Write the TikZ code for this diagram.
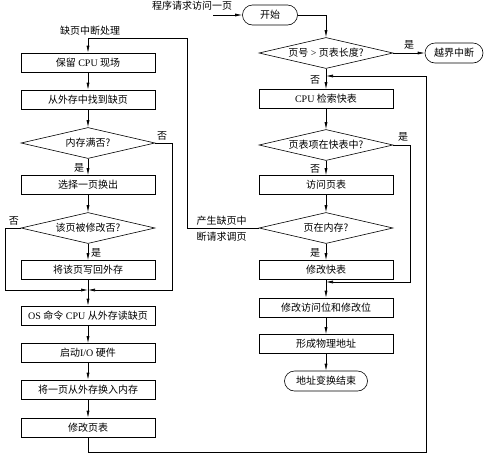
\documentclass[tikz,border=0pt]{standalone}
\usepackage{fontspec}
\setmainfont{Liberation Serif}
\newfontfamily\cjk{Noto Sans CJK SC}
\usetikzlibrary{shapes.geometric,arrows.meta}

\begin{document}
\begin{tikzpicture}[>={Latex[length=7pt,width=3pt]}, x=1pt, y=-1pt, line width=0.6pt,
    every node/.style={font=\cjk\fontsize{10}{12}\selectfont},
    box/.style={draw, minimum width=134pt, minimum height=19pt, inner sep=0pt},
    judge/.style={draw, diamond, aspect=4.3, minimum width=134pt, minimum height=31pt, inner sep=0pt},
    term/.style={draw, rounded corners=10pt, minimum height=20pt, inner sep=0pt}]
    \useasboundingbox (0,0) rectangle (485,459);

    % 地址变换（右列）
    \node[term, minimum width=55pt] (start) at (270,15) {开始};
    \node (reqtxt) at (192,6) {程序请求访问一页};
    \coordinate (req) at (213,15);
    \node[judge] (chk) at (326,53) {页号\textrm{ > }页表长度?};
    \node[term, minimum width=58pt] (over) at (454,53) {越界中断};
    \node[box] (tlb) at (326,99) {\textrm{CPU }检索快表};
    \node[judge] (intlb) at (326,145) {页表项在快表中?};
    \node[box] (visit) at (326,185) {访问页表};
    \node[judge] (inmem) at (326,228) {页在内存?};
    \node[box] (modtlb) at (326,270) {修改快表};
    \node[box] (modbit) at (326,307.5) {修改访问位和修改位};
    \node[box] (phys) at (326,344) {形成物理地址};
    \node[term, minimum width=83pt] (done) at (326,381) {地址变换结束};
    \coordinate (jA) at (326,76);
    \coordinate (jB) at (326,282);

    % 缺页中断处理（左列）
    \node (faulttxt) at (90,31) {缺页中断处理};
    \node[box] (save) at (88,62.5) {保留\textrm{ CPU }现场};
    \node[box] (find) at (88,99.5) {从外存中找到缺页};
    \node[judge] (full) at (88,143) {内存满否?};
    \node[box] (pick) at (88,185) {选择一页换出};
    \node[judge] (dirty) at (88,228) {该页被修改否?};
    \node[box] (back) at (88,270) {将该页写回外存};
    \node[box] (read) at (88,315.5) {\textrm{OS }命令\textrm{ CPU }从外存读缺页};
    \node[box] (io) at (88,353) {启动\textrm{I/O }硬件};
    \node[box] (swap) at (88,389.5) {将一页从外存换入内存};
    \node[box] (modpt) at (88,427.5) {修改页表};
    \coordinate (jC) at (88,290);
    \node[anchor=west] (reqa) at (193,221) {产生缺页中};
    \node[anchor=west] (reqb) at (193,237) {断请求调页};

    % 右列连线
    \draw[->] (req) -- (start.west);
    \draw[->] (start.east) -| (chk.north);
    \draw[->] (chk.east) -- node[above] {是} (over.west);
    \draw[->] (chk.south) -- (tlb.north);
    \node (no1) at (315,80) {否};
    \draw[->] (tlb) -- (intlb);
    \draw[->] (intlb.east) -| (410,282) -- (jB);
    \node (yes1) at (403,137) {是};
    \draw[->] (intlb.south) -- (visit.north);
    \node (no2) at (315,169) {否};
    \draw[->] (visit) -- (inmem);
    \draw[->] (inmem.south) -- (modtlb.north);
    \node (yes2) at (315,253) {是};
    \draw[->] (modtlb) -- (modbit);
    \draw[->] (modbit) -- (phys);
    \draw[->] (phys) -- (done);

    % 左列连线
    \draw[->] (inmem.west) -- (187,228) |- (88,38) -- (save.north);
    \draw[->] (save) -- (find);
    \draw[->] (find) -- (full);
    \draw[->] (full.east) -| (172,290) -- (jC);
    \node (no3) at (162,136) {否};
    \draw[->] (full.south) -- (pick.north);
    \node (yes3) at (79,168) {是};
    \draw[->] (pick) -- (dirty);
    \draw[->] (dirty.west) -| (5,290) -- (jC);
    \node (no4) at (14,221) {否};
    \draw[->] (dirty.south) -- (back.north);
    \node (yes4) at (96,253) {是};
    \draw[->] (back) -- (read);
    \draw[->] (read) -- (io);
    \draw[->] (io) -- (swap);
    \draw[->] (swap) -- (modpt);

    % 回到快表检索
    \draw[->] (modpt.south) |- (426,452) |- (jA);
\end{tikzpicture}
\end{document}
